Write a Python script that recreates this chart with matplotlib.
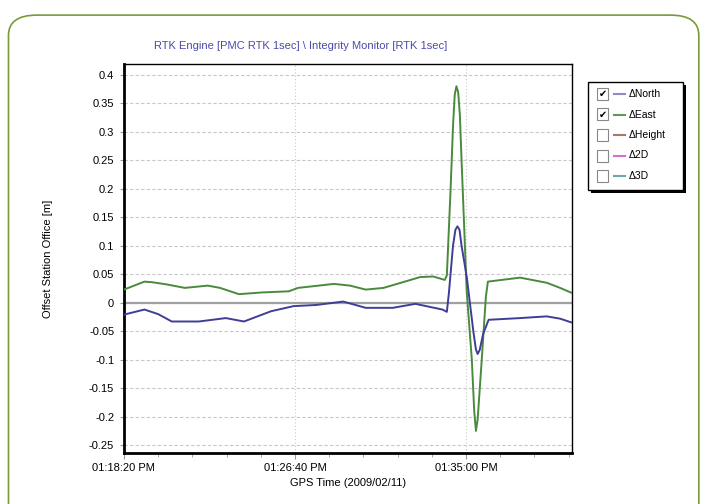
import matplotlib
matplotlib.use("Agg")
import matplotlib.pyplot as plt
import matplotlib.dates as mdates
import matplotlib.ticker as mticker
from matplotlib.patches import FancyBboxPatch, Rectangle
from matplotlib.lines import Line2D
import datetime as dt

plt.rcParams['font.family'] = ['Liberation Sans', 'DejaVu Sans']

# seconds after 13:18:20 on 2009/02/11
east_t = [0, 60, 82, 126, 178, 245, 281, 336, 404, 482, 509, 614, 661, 707, 759,
          866, 904, 938, 944, 955, 962, 967, 972, 977, 982, 987, 1002, 1017,
          1024, 1029, 1034, 1046, 1058, 1064, 1158, 1236, 1275, 1310]
east_v = [0.023, 0.037, 0.036, 0.032, 0.026, 0.030, 0.026, 0.015, 0.018, 0.020,
          0.026, 0.033, 0.030, 0.023, 0.026, 0.045, 0.046, 0.040, 0.048, 0.20,
          0.31, 0.365, 0.38, 0.37, 0.33, 0.25, 0.02, -0.10, -0.19, -0.225,
          -0.205, -0.10, 0.01, 0.037, 0.044, 0.035, 0.026, 0.017]
north_t = [0, 60, 100, 140, 219, 298, 351, 430, 496, 562, 641, 707, 786, 852,
           931, 944, 950, 962, 969, 975, 981, 987, 1002, 1022, 1029, 1034, 1040,
           1050, 1066, 1158, 1236, 1275, 1310]
north_v = [-0.021, -0.012, -0.020, -0.033, -0.033, -0.027, -0.033, -0.015,
           -0.006, -0.004, 0.002, -0.009, -0.009, -0.002, -0.012, -0.016, 0.017,
           0.10, 0.128, 0.134, 0.128, 0.10, 0.046, -0.053, -0.082, -0.09, -0.083,
           -0.055, -0.030, -0.027, -0.024, -0.028, -0.035]
legend_labels = ["\u0394North", "\u0394East", "\u0394Height", "\u03942D", "\u03943D"]
legend_colors = ["#8c8cc8", "#5e9a4e", "#a87868", "#d070d0", "#6aa8b0"]
legend_checked = [True, True, False, False, False]
y_ticks = [0.4, 0.35, 0.3, 0.25, 0.2, 0.15, 0.1, 0.05, 0, -0.05, -0.1, -0.15, -0.2, -0.25]

start = dt.datetime(2009, 2, 11, 13, 18, 20)
to_dt = lambda ts: [start + dt.timedelta(seconds=s) for s in ts]

fig = plt.figure(figsize=(7.08, 5.04), dpi=100)

# rounded green frame
frame = FancyBboxPatch((0.012, -0.05), 0.975, 1.02, boxstyle="round,pad=0,rounding_size=0.04",
                       transform=fig.transFigure, fill=False, edgecolor="#7a9a3a", lw=1.2)
fig.patches.append(frame)

ax = fig.add_axes([0.175, 0.101, 0.633, 0.772])
ax.plot(to_dt(east_t), east_v, color="#4a8a3c", lw=1.4, zorder=3)
ax.plot(to_dt(north_t), north_v, color="#3e3e96", lw=1.4, zorder=4)
ax.axhline(0, color="#a0a0a0", lw=1.6, zorder=2)

ax.set_ylim(-0.264, 0.419)
ax.set_xlim(start, start + dt.timedelta(seconds=1310))
ax.set_yticks(y_ticks)
ax.set_yticklabels([("%g" % v) for v in y_ticks])
ax.xaxis.set_major_locator(mticker.FixedLocator(mdates.date2num(to_dt([0, 500, 1000]))))
ax.xaxis.set_minor_locator(mticker.FixedLocator(mdates.date2num(to_dt(list(range(0, 1311, 100))))))
ax.xaxis.set_major_formatter(mdates.DateFormatter('%I:%M:%S %p'))

ax.grid(axis='y', color="#c8c8c8", lw=0.8, ls=(0, (3, 2)))
ax.grid(axis='x', which='major', color="#c8c8c8", lw=0.8, ls=(0, (1, 2)))
for s in ax.spines.values():
    s.set_color("black")
    s.set_linewidth(1.0)
ax.spines['left'].set_linewidth(2.0)
ax.spines['bottom'].set_linewidth(2.0)
ax.tick_params(axis='both', which='both', direction='out', color="#999999", labelsize=8)
ax.tick_params(axis='x', which='major', length=4, pad=3)
ax.tick_params(axis='x', which='minor', length=3)
ax.tick_params(axis='y', length=3, pad=4)

ax.set_xlabel("GPS Time (2009/02/11)", fontsize=8, labelpad=4)
ax.set_ylabel("Offset Station Office [m]", fontsize=8, labelpad=26)
fig.text(0.425, 0.908, "RTK Engine [PMC RTK 1sec] \\ Integrity Monitor [RTK 1sec]",
         ha="center", va="center", fontsize=8, color="#4a4aa8")

# custom legend with checkboxes
lx0, ly0, lw_, lh = 588 / 708, 1 - 190 / 504, 95 / 708, 108 / 504
fig.patches.append(Rectangle((lx0 + 0.004, ly0 - 0.006), lw_, lh, transform=fig.transFigure,
                             facecolor="black", edgecolor="none"))
fig.patches.append(Rectangle((lx0, ly0), lw_, lh, transform=fig.transFigure,
                             facecolor="white", edgecolor="black", lw=1.0))
for i, (lab, col, chk) in enumerate(zip(legend_labels, legend_colors, legend_checked)):
    yc = 1 - (94 + i * 20.5) / 504
    bx = 597 / 708
    fig.patches.append(Rectangle((bx, yc - 6 / 504), 11 / 708, 12 / 504, transform=fig.transFigure,
                                 facecolor="white", edgecolor="#888888", lw=0.8))
    if chk:
        fig.text(bx + 5.5 / 708, yc, "\u2714", ha="center", va="center", fontsize=7,
                 family=["DejaVu Sans"], color="black")
    fig.lines.append(Line2D([614 / 708, 625 / 708], [yc, yc], transform=fig.transFigure,
                            color=col, lw=1.5))
    fig.text(629 / 708, yc, lab, ha="left", va="center", fontsize=7.5, color="black")

fig.savefig("out.png", dpi=100)
